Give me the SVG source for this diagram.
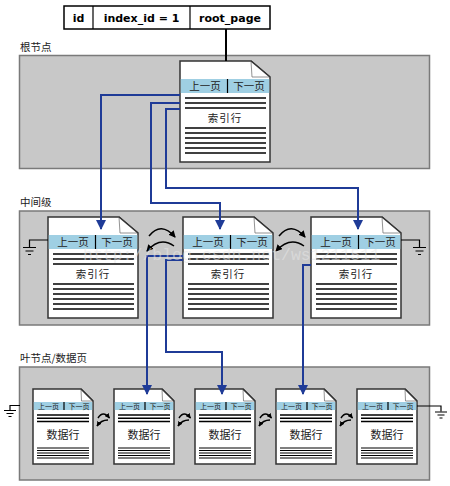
<svg xmlns="http://www.w3.org/2000/svg" width="450" height="486" viewBox="0 0 450 486">
<style>
.panel{fill:#c8c8c8;stroke:#7a7a7a;stroke-width:1.5}
.lbl{font-family:"Noto Sans CJK SC","DejaVu Sans",sans-serif;font-size:10.5px;fill:#222}
.tbl{font-family:"DejaVu Sans",sans-serif;font-weight:bold;font-size:11px;fill:#000;text-anchor:middle}
.pg{fill:#fff;stroke:#333;stroke-width:1.5}
.fold{fill:#fff;stroke:#777;stroke-width:0.8}
.band{fill:#9fcfe3}
.div{stroke:#000;stroke-width:1.2}
.ln{stroke:#000;stroke-width:1.5}
.ln2{stroke:#000;stroke-width:1.2}
.ptx{font-family:"Noto Sans CJK SC","DejaVu Sans",sans-serif;font-size:10.5px;fill:#222;text-anchor:middle}
.stx{font-family:"Noto Sans CJK SC","DejaVu Sans",sans-serif;font-size:7px;fill:#222;text-anchor:middle}
.blue{fill:none;stroke:#1f3b97;stroke-width:2}
.blk{fill:none;stroke:#000;stroke-width:1.5}
.gnd{fill:none;stroke:#000;stroke-width:1.2}
.wm{font-family:"Liberation Mono",monospace;font-size:16.5px;fill:#e6e6e6;fill-opacity:0.55}
</style>
<defs>
<marker id="ab" markerUnits="userSpaceOnUse" markerWidth="10" markerHeight="10" refX="9" refY="5" orient="auto" viewBox="0 0 10 10"><path d="M0,0 L10,5 L0,10 Z" fill="#1f3b97"/></marker>
<marker id="ak" markerUnits="userSpaceOnUse" markerWidth="7" markerHeight="7" refX="6" refY="3.5" orient="auto" viewBox="0 0 7 7"><path d="M0,0 L7,3.5 L0,7 Z" fill="#000"/></marker>
<marker id="aks" markerUnits="userSpaceOnUse" markerWidth="5" markerHeight="5" refX="4.5" refY="2.5" orient="auto" viewBox="0 0 5 5"><path d="M0,0 L5,2.5 L0,5 Z" fill="#000"/></marker>
<g id="bigpage">
<path class="pg" d="M0,0 H71 L90,16 V101 H0 Z"/>
<path class="fold" d="M71,0 L72,16 L90,16"/>
<path class="pg" d="M71,0 L90,16" style="fill:none"/>
<rect class="band" x="0.8" y="18" width="88.4" height="14"/>
<line class="div" x1="47.5" y1="18" x2="47.5" y2="32"/>
<text class="ptx" x="25" y="29">上一页</text>
<text class="ptx" x="69" y="29">下一页</text>
<line class="ln" x1="5" y1="37" x2="86" y2="37"/><line class="ln" x1="5" y1="42" x2="86" y2="42"/><line class="ln" x1="5" y1="47" x2="86" y2="47"/>
<text class="ptx" x="45" y="61" letter-spacing="1">索引行</text>
<line class="ln" x1="5" y1="67" x2="86" y2="67"/><line class="ln" x1="5" y1="72" x2="86" y2="72"/><line class="ln" x1="5" y1="77" x2="86" y2="77"/><line class="ln" x1="5" y1="82" x2="86" y2="82"/><line class="ln" x1="5" y1="87" x2="86" y2="87"/><line class="ln" x1="5" y1="92" x2="86" y2="92"/>
</g>
<g id="smallpage">
<path class="pg" d="M0,0 H48 L60,12 V75 H0 Z"/>
<path class="fold" d="M48,0 L48.5,12 L60,12"/>
<path class="pg" d="M48,0 L60,12" style="fill:none"/>
<rect class="band" x="0.8" y="13" width="58.4" height="8"/>
<line class="div" x1="31" y1="13" x2="31" y2="21"/>
<text class="stx" x="15.5" y="20">上一页</text>
<text class="stx" x="46" y="20">下一页</text>
<line class="ln" x1="4" y1="26" x2="56" y2="26"/><line class="ln" x1="4" y1="29.3" x2="56" y2="29.3"/><line class="ln" x1="4" y1="32.6" x2="56" y2="32.6"/>
<text class="ptx" x="30" y="50" style="font-size:11px">数据行</text>
<line class="ln2" x1="4" y1="59" x2="56" y2="59"/><line class="ln2" x1="4" y1="61.5" x2="56" y2="61.5"/><line class="ln2" x1="4" y1="64" x2="56" y2="64"/><line class="ln2" x1="4" y1="66.5" x2="56" y2="66.5"/><line class="ln2" x1="4" y1="69" x2="56" y2="69"/>
</g>
</defs>

<g id="table">
<rect x="64" y="6" width="206" height="23" fill="#fff" stroke="#000" stroke-width="1.5"/>
<line x1="93" y1="6" x2="93" y2="29" stroke="#000" stroke-width="1.2"/>
<line x1="190" y1="6" x2="190" y2="29" stroke="#000" stroke-width="1.2"/>
<text class="tbl" x="78.5" y="21.5">id</text>
<text class="tbl" x="141.5" y="21.5">index_id = 1</text>
<text class="tbl" x="230" y="21.5">root_page</text>
</g>

<g id="panels">
<text class="lbl" x="20" y="51">根节点</text>
<rect class="panel" x="19.5" y="55.5" width="410" height="113"/>
<text class="lbl" x="20" y="206">中间级</text>
<rect class="panel" x="19.5" y="211" width="410" height="114"/>
<text class="lbl" x="20" y="362">叶节点/数据页</text>
<rect class="panel" x="19.5" y="367" width="410" height="113"/>
</g>

<g id="root"><use href="#bigpage" x="180" y="61"/></g>
<g id="mid1"><use href="#bigpage" x="48" y="217"/></g>
<g id="mid2"><use href="#bigpage" x="183" y="217"/></g>
<g id="mid3"><use href="#bigpage" x="311" y="217"/></g>
<g id="leaf1"><use href="#smallpage" x="33" y="389"/></g>
<g id="leaf2"><use href="#smallpage" x="114" y="389"/></g>
<g id="leaf3"><use href="#smallpage" x="195" y="389"/></g>
<g id="leaf4"><use href="#smallpage" x="276" y="389"/></g>
<g id="leaf5"><use href="#smallpage" x="357" y="389"/></g>

<g id="connectors">
<line x1="226" y1="29" x2="226" y2="61" stroke="#000" stroke-width="2"/>
<path class="blue" d="M180,95 H101 V229" marker-end="url(#ab)"/>
<path class="blue" d="M180,103 H151 V203 H220 V229" marker-end="url(#ab)"/>
<path class="blue" d="M180,109 H166 V188 H358 V229" marker-end="url(#ab)"/>
<path class="blue" d="M183,256 H147 V394" marker-end="url(#ab)"/>
<path class="blue" d="M183,260 H166 V352 H222 V394" marker-end="url(#ab)"/>
<path class="blue" d="M311,265 H303 V394" marker-end="url(#ab)"/>
<path class="blk" d="M149,236 Q161,221 175,237" marker-end="url(#ak)"/>
<path class="blk" d="M174,246 Q160,236 147,251" marker-end="url(#ak)"/>
<path class="blk" d="M279,236 Q291,221 305,237" marker-end="url(#ak)"/>
<path class="blk" d="M304,246 Q290,236 276,251" marker-end="url(#ak)"/>
<g id="leafarrows">
<path class="blk" d="M98,418 Q103,410 109.5,418" marker-end="url(#aks)"/>
<path class="blk" d="M108,420 Q101,420 97,426" marker-end="url(#aks)"/>
<path class="blk" d="M179,418 Q184,410 190.5,418" marker-end="url(#aks)"/>
<path class="blk" d="M189,420 Q182,420 178,426" marker-end="url(#aks)"/>
<path class="blk" d="M260,418 Q265,410 271.5,418" marker-end="url(#aks)"/>
<path class="blk" d="M270,420 Q263,420 259,426" marker-end="url(#aks)"/>
<path class="blk" d="M341,418 Q346,410 352.5,418" marker-end="url(#aks)"/>
<path class="blk" d="M351,420 Q344,420 340,426" marker-end="url(#aks)"/>
</g>
<g id="grounds">
<path class="gnd" d="M48,240 H29.5 V247"/>
<path class="gnd" d="M23,247.5 H36 M25.5,251 H33.5 M28,254.5 H31"/>
<path class="gnd" d="M401,240 H419.5 V247"/>
<path class="gnd" d="M413,247.5 H426 M415.5,251 H423.5 M418,254.5 H421"/>
<path class="gnd" d="M20,405.5 H10 V410"/>
<path class="gnd" d="M4,410.5 H16 M6.5,413.5 H13.5 M8.5,416.5 H11.5"/>
<path class="gnd" d="M417,406 H441 V411.5"/>
<path class="gnd" d="M435,412 H447 M437.5,415 H444.5 M439.5,418 H442.5"/>
</g>
</g>
<text class="wm" x="83" y="260">http://blog.csdn.net/ws1211511</text>
</svg>
